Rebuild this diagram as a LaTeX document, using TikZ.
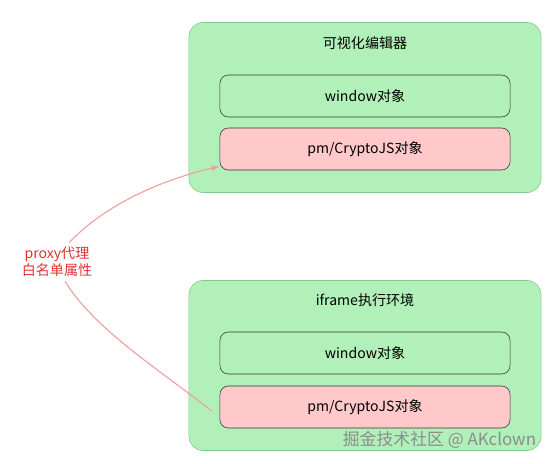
\documentclass[tikz,border=0pt]{standalone}
\usepackage{fontspec}
\setmainfont{Noto Sans CJK SC}
\usetikzlibrary{arrows.meta,positioning}
\definecolor{boardGreen}{RGB}{178, 240, 186}
\definecolor{boardEdge}{RGB}{130, 200, 140}
\definecolor{boardPink}{RGB}{255, 201, 201}
\definecolor{proxyRed}{RGB}{224, 49, 49}
\definecolor{proxyLine}{RGB}{238, 160, 160}

\begin{document}
\begin{tikzpicture}[
  x=0.025cm, y=-0.025cm,
  env/.style={
    draw=boardEdge,
    fill=boardGreen,
    rounded corners=10pt,
    minimum width=8.8cm,
    minimum height=4.25cm
  },
  obj/.style={
    draw=black!80,
    rounded corners=6pt,
    minimum width=7.25cm,
    minimum height=1.05cm,
    font=\normalsize
  },
  arrow/.style={-{Latex[length=2mm]},proxyLine,thick}
]
  \useasboundingbox (0,0) rectangle (556,464);

  % editor side
  \node[env] (editor) at (365,107.5) {};
  \node[font=\normalsize] (editorTitle) at (365,43) {可视化编辑器};
  \node[obj,fill=boardGreen] (winA) at (365,96) {window对象};
  \node[obj,fill=boardPink] (pmA) at (365,149) {pm/CryptoJS对象};

  % iframe side
  \node[env] (frame) at (365,365.5) {};
  \node[font=\normalsize] (frameTitle) at (365,300) {iframe执行环境};
  \node[obj,fill=boardGreen] (winB) at (365,353) {window对象};
  \node[obj,fill=boardPink] (pmB) at (365,407) {pm/CryptoJS对象};

  % proxy label
  \node[text=proxyRed,align=center,font=\normalsize,inner sep=1pt] (proxy) at (57,262)
    {proxy代理\\白名单属性};

  \coordinate (tipB) at ([xshift=-0.2cm,yshift=-0.1cm]pmB.west);
  \draw[arrow] ([xshift=0.3cm,yshift=2pt]proxy.north) .. controls (110,200) and (170,178) ..
    ([yshift=0.1cm]pmA.south west);
  \draw[proxyLine,thick] ([xshift=0.2cm,yshift=-2pt]proxy.south) .. controls (95,330) and (160,370) ..
    (tipB);

  % watermark
  \node[text=black!45,font=\large,anchor=south east] (mark) at (541,453)
    {掘金技术社区 @ AKclown};
\end{tikzpicture}
\end{document}
